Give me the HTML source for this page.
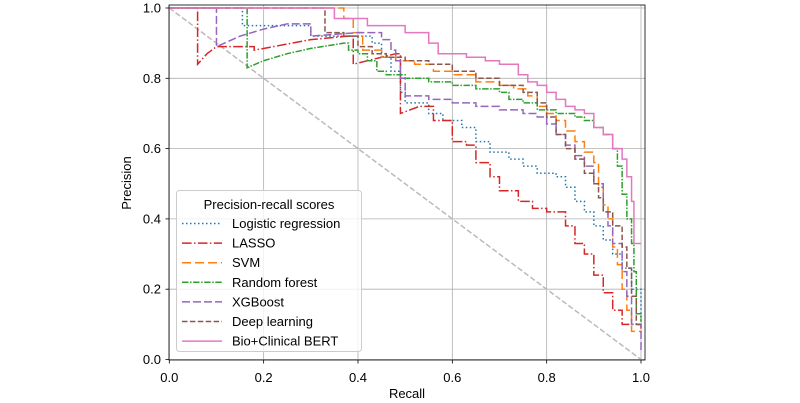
<!DOCTYPE html>
<html><head><meta charset="utf-8"><style>
body{margin:0;background:#fff;}
svg{display:block;font-family:"Liberation Sans","DejaVu Sans",sans-serif;}
</style></head><body>
<svg id="chart" width="800" height="403" viewBox="0 0 800 403"></svg>
<script>
const xTicks=[0,0.2,0.4,0.6,0.8,1.0];
const yTicks=[0,0.2,0.4,0.6,0.8,1.0];
const tickLabels=["0.0","0.2","0.4","0.6","0.8","1.0"];
const seriesNames=["Logistic regression","LASSO","SVM","Random forest","XGBoost","Deep learning","Bio+Clinical BERT"];
const logRecall=[0,0.155,0.3,0.40,0.43,0.45,0.47,0.49,0.5,0.55,0.58,0.62,0.65,0.68,0.72,0.75,0.78,0.82,0.84,0.86,0.88,0.90,0.92,0.94,0.96,0.98,1.0];
const logPrec=[1,0.95,0.92,0.92,0.90,0.86,0.82,0.76,0.73,0.70,0.68,0.66,0.62,0.59,0.57,0.55,0.53,0.52,0.49,0.45,0.42,0.38,0.34,0.30,0.26,0.20,0.10];
const lassoRecall=[0,0.06,0.08,0.1,0.18,0.3,0.38,0.39,0.45,0.48,0.49,0.53,0.56,0.6,0.63,0.65,0.68,0.70,0.74,0.77,0.80,0.84,0.86,0.88,0.90,0.92,0.94,0.96,1.0];
const lassoPrec=[1,0.84,0.87,0.89,0.88,0.91,0.92,0.84,0.86,0.87,0.70,0.72,0.68,0.62,0.61,0.56,0.52,0.48,0.45,0.43,0.42,0.38,0.33,0.30,0.24,0.19,0.14,0.10,0.07];
const svmRecall=[0,0.37,0.39,0.41,0.45,0.48,0.52,0.56,0.60,0.65,0.70,0.73,0.76,0.78,0.80,0.82,0.84,0.86,0.88,0.90,0.91,0.92,0.93,0.94,0.95,0.96,0.97,0.98,1.0];
const svmPrec=[1,0.97,0.93,0.88,0.86,0.85,0.84,0.82,0.81,0.79,0.78,0.77,0.75,0.72,0.70,0.68,0.65,0.62,0.59,0.56,0.49,0.44,0.40,0.32,0.27,0.20,0.14,0.08,0.08];
const rfRecall=[0,0.165,0.2,0.25,0.3,0.37,0.38,0.40,0.42,0.44,0.46,0.5,0.55,0.6,0.65,0.7,0.72,0.75,0.78,0.82,0.86,0.88,0.90,0.92,0.94,0.95,0.96,0.97,0.98,0.985,0.99,1.0];
const rfPrec=[1,0.83,0.85,0.87,0.885,0.90,0.88,0.87,0.85,0.82,0.81,0.80,0.79,0.78,0.77,0.76,0.74,0.73,0.71,0.70,0.69,0.68,0.66,0.64,0.60,0.55,0.47,0.40,0.33,0.25,0.13,0.11];
const xgbRecall=[0,0.1,0.15,0.2,0.25,0.3,0.4,0.45,0.47,0.48,0.49,0.50,0.55,0.60,0.65,0.70,0.75,0.78,0.80,0.82,0.84,0.86,0.88,0.90,0.92,0.93,0.94,0.96,0.97,0.98,1.0];
const xgbPrec=[1,0.89,0.92,0.94,0.955,0.92,0.93,0.91,0.88,0.85,0.80,0.75,0.74,0.73,0.72,0.71,0.70,0.69,0.67,0.64,0.61,0.58,0.55,0.50,0.42,0.38,0.33,0.25,0.18,0.10,0.02];
const dlRecall=[0,0.33,0.37,0.40,0.43,0.46,0.5,0.55,0.6,0.65,0.7,0.75,0.78,0.80,0.82,0.84,0.86,0.88,0.90,0.91,0.92,0.94,0.96,0.97,0.98,0.99,1.0];
const dlPrec=[1,0.93,0.92,0.89,0.87,0.86,0.85,0.84,0.82,0.80,0.78,0.76,0.73,0.69,0.64,0.60,0.57,0.53,0.50,0.46,0.42,0.38,0.32,0.26,0.18,0.10,0.10];
const bertRecall=[0,0.35,0.42,0.50,0.55,0.57,0.63,0.67,0.70,0.74,0.76,0.78,0.80,0.82,0.84,0.86,0.88,0.90,0.92,0.94,0.96,0.97,0.98,0.985,1.0];
const bertPrec=[1,0.97,0.95,0.93,0.90,0.87,0.86,0.85,0.84,0.81,0.79,0.78,0.76,0.74,0.72,0.71,0.70,0.66,0.64,0.60,0.57,0.52,0.45,0.33,0.33];

const L=169.3,R=641,T=8,B=359.5;
const xs=v=>L+v*(R-L);
const ys=v=>B-v*(B-T);
const NS="http://www.w3.org/2000/svg";
const svg=document.getElementById('chart');
function mk(tag,attrs,parent){const e=document.createElementNS(NS,tag);for(const k in attrs)e.setAttribute(k,attrs[k]);(parent||svg).appendChild(e);return e;}

const grid=mk('g',{});


xTicks.forEach((t,i)=>{
 mk('line',{x1:xs(t),x2:xs(t),y1:5,y2:360,stroke:'#b0b0b0','stroke-width':0.8},grid);
 mk('line',{x1:xs(t),x2:xs(t),y1:360,y2:363.5,stroke:'#000','stroke-width':0.8});
 const tx=mk('text',{x:xs(t),y:382,'text-anchor':'middle','font-size':13,fill:'#000'});
 tx.textContent=tickLabels[i];
 
 
});
yTicks.forEach((t,i)=>{
 mk('line',{x1:169,x2:645,y1:ys(t),y2:ys(t),stroke:'#b0b0b0','stroke-width':0.8},grid);
 mk('line',{x1:165.5,x2:169,y1:ys(t),y2:ys(t),stroke:'#000','stroke-width':0.8});
 const tx=mk('text',{x:161,y:ys(t)+4.5,'text-anchor':'end','font-size':13,fill:'#000'});
 tx.textContent=tickLabels[i];
 
 
});
const diag=mk('line',{x1:xs(0),y1:ys(1),x2:xs(1),y2:ys(0),stroke:'#bbbbbb','stroke-width':1.5,'stroke-dasharray':'5.5,2.4'});



const series=[
 [logRecall,logPrec,'#1f77b4','1.5,2.5'],
 [lassoRecall,lassoPrec,'#d62728','9.6,2.4,1.5,2.4'],
 [svmRecall,svmPrec,'#ff7f0e','9,4'],
 [rfRecall,rfPrec,'#2ca02c','6.4,1.6,1.5,1.6'],
 [xgbRecall,xgbPrec,'#9467bd','8,3'],
 [dlRecall,dlPrec,'#8c564b','5.5,2.4'],
 [bertRecall,bertPrec,'#e377c2','']
];
const clip=mk('clipPath',{id:'cp'});mk('rect',{x:169,y:5,width:476,height:355},clip);
series.forEach((s,si)=>{
 const [r,p,c,d]=s;
 let path='M'+xs(r[0])+','+ys(p[0]);
 for(let i=1;i<r.length;i++){
  if(p[i]>p[i-1]) path+=' L'+xs(r[i])+','+ys(p[i]);
  else path+=' H'+xs(r[i])+' V'+ys(p[i]);
 }
 const el=mk('path',{d:path,fill:'none',stroke:c,'stroke-width':1.5,'stroke-dasharray':d,'clip-path':'url(#cp)'});
 
 
});
const frame=mk('rect',{x:169,y:5,width:476,height:355,fill:'none',stroke:'#000','stroke-width':0.8});



const xl=mk('text',{x:407,y:398,'text-anchor':'middle','font-size':13});
xl.textContent='Recall';


const yl=mk('text',{x:0,y:0,'text-anchor':'middle','font-size':13,transform:'translate(131,183) rotate(-90)'});
yl.textContent='Precision';



const lg=mk('g',{});


mk('rect',{x:176.5,y:190.5,width:185,height:161,rx:3,fill:'#fff','fill-opacity':0.8,stroke:'#cccccc','stroke-width':1},lg);
const lt=mk('text',{x:269,y:209,'text-anchor':'middle','font-size':13},lg);
lt.textContent='Precision-recall scores';


series.forEach((s,i)=>{
 const y=223.5+i*19.6;
 mk('line',{x1:182,x2:222,y1:y,y2:y,stroke:s[2],'stroke-width':1.5,'stroke-dasharray':s[3]},lg);
 const t=mk('text',{x:232,y:y+4.5,'font-size':13},lg);
 t.textContent=seriesNames[i];
 
 
});
</script>
</body></html>
